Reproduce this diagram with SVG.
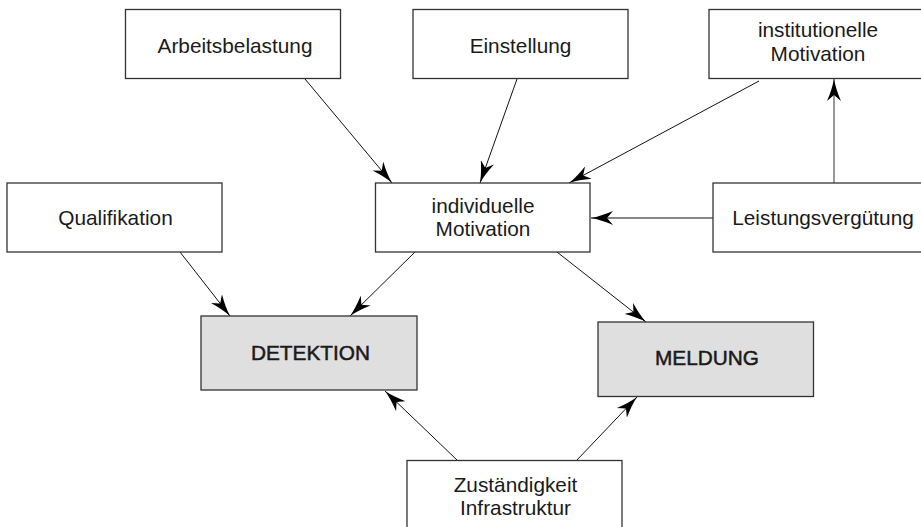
<svg xmlns="http://www.w3.org/2000/svg" width="921" height="527" viewBox="0 0 921 527">
<style>
.box{fill:#fff;stroke:#333;stroke-width:1.3}
.main{fill:#dfdfdf;stroke:#333;stroke-width:1.3}
.t{font-family:"Liberation Sans","Noto Sans",Arial,sans-serif;font-size:20.8px;fill:#1a1a1a;text-anchor:middle}
.b{stroke:#1a1a1a;stroke-width:0.5}
.c{stroke:#111;stroke-width:1;fill:none;marker-end:url(#ah)}
.g{stroke:#777;stroke-width:1.5}
</style>
<defs>
<marker id="ah" markerUnits="userSpaceOnUse" markerWidth="22" markerHeight="14" viewBox="0 0 22 14" refX="22" refY="7" orient="auto">
<path d="M0,0 Q12,5.2 22,7 Q12,8.8 0,14 L6,7 z" fill="#000"/>
</marker>
</defs>
<rect width="921" height="527" fill="#fff"/>
<g id="connectors">
<line class="c" x1="305" y1="79" x2="392" y2="183"/>
<line class="c" x1="517" y1="79" x2="480" y2="183"/>
<line class="c" x1="759" y1="81" x2="569" y2="183"/>
<line class="c" x1="713" y1="218" x2="591" y2="218"/>
<line class="c g" x1="834" y1="183" x2="834" y2="79"/>
<line class="c" x1="180" y1="252" x2="230" y2="316"/>
<line class="c" x1="415" y1="252" x2="350" y2="316"/>
<line class="c" x1="557" y1="252" x2="646" y2="322"/>
<line class="c" x1="457" y1="460" x2="385" y2="391"/>
<line class="c" x1="577" y1="460" x2="637" y2="397"/>
</g>
<g id="arbeitsbelastung">
<rect class="box" x="125.5" y="9.5" width="215" height="69"/>
<text class="t" x="235" y="53">Arbeitsbelastung</text>
</g>
<g id="einstellung">
<rect class="box" x="413" y="9.5" width="215" height="69"/>
<text class="t" x="520.5" y="53">Einstellung</text>
</g>
<g id="institutionelle">
<rect class="box" x="709" y="9.5" width="230" height="69"/>
<text class="t" x="818" y="37">institutionelle</text>
<text class="t" x="818" y="61">Motivation</text>
</g>
<g id="qualifikation">
<rect class="box" x="7" y="183" width="215" height="69"/>
<text class="t" x="115.5" y="225">Qualifikation</text>
</g>
<g id="individuelle">
<rect class="box" x="375.5" y="183" width="214.5" height="69"/>
<text class="t" x="483" y="213">individuelle</text>
<text class="t" x="483" y="236">Motivation</text>
</g>
<g id="leistungsverguetung">
<rect class="box" x="713" y="183" width="230" height="69"/>
<text class="t" x="823" y="225">Leistungsvergütung</text>
</g>
<g id="detektion">
<rect class="main" x="201" y="316" width="216" height="74"/>
<text class="t b" x="310.5" y="359.5">DETEKTION</text>
</g>
<g id="meldung">
<rect class="main" x="598" y="322" width="215.5" height="74.5"/>
<text class="t b" x="707" y="364.5">MELDUNG</text>
</g>
<g id="zustaendigkeit">
<rect class="box" x="407" y="460.5" width="215" height="80"/>
<text class="t" x="515.5" y="492">Zuständigkeit</text>
<text class="t" x="515.5" y="514.5">Infrastruktur</text>
</g>
</svg>
